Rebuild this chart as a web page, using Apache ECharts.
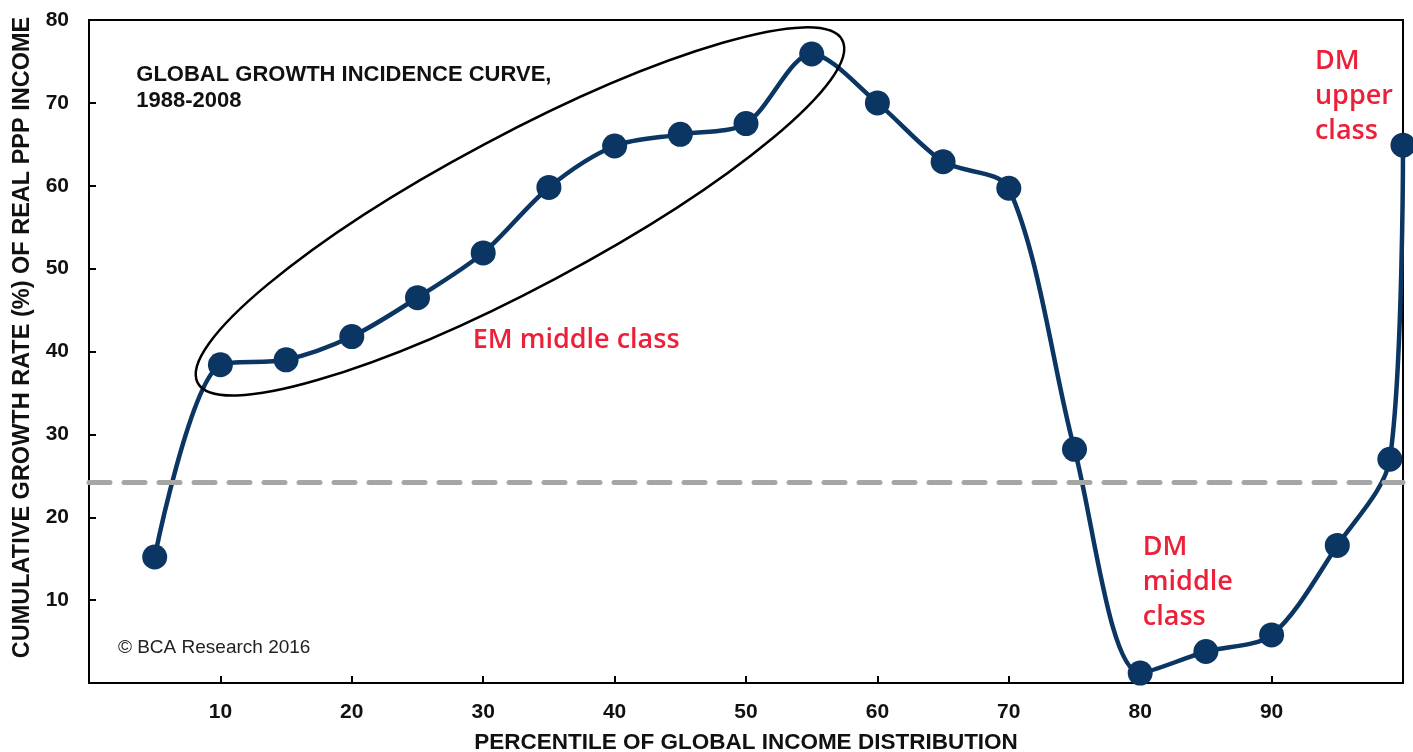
<!DOCTYPE html>
<html>
<head>
<meta charset="utf-8">
<title>Global growth incidence curve</title>
<script src="https://cdn.jsdelivr.net/npm/echarts@6/dist/echarts.min.js"></script>
<style>
  html, body { margin: 0; padding: 0; background: #fff; }
  #chart { width: 1413px; height: 752px; }
</style>
</head>
<body>
<div id="chart"></div>
<script>
// percentile of global income distribution
var percentiles = [5, 10, 15, 20, 25, 30, 35, 40, 45, 50, 55, 60, 65, 70, 75, 80, 85, 90, 95, 99, 100];
// cumulative growth rate (%) of real PPP income, 1988-2008
var growth = [15.2, 38.4, 39.0, 41.8, 46.5, 51.9, 59.8, 64.8, 66.2, 67.5, 75.9, 70.0, 62.9, 59.7, 28.2, 1.2, 3.8, 5.8, 16.6, 27.0, 64.9];
// global average (dashed line)
var globalAvg = 24.2;

var xTicks = [10, 20, 30, 40, 50, 60, 70, 80, 90];
var yTicks = [10, 20, 30, 40, 50, 60, 70, 80];

var navy = '#0b3562';
var red = '#ec2039';
var axisFont = '"Liberation Sans", Arial, sans-serif';

var chart = echarts.init(document.getElementById('chart'));

var points = percentiles.map(function (p, i) { return [p, growth[i]]; });

chart.setOption({
  animation: false,
  grid: {
    left: 89, right: 10, top: 20, bottom: 69,
    outerBoundsMode: 'none',
    show: true, borderColor: '#000', borderWidth: 2
  },
  xAxis: {
    type: 'value', min: 0, max: 100, interval: 10,
    name: 'PERCENTILE OF GLOBAL INCOME DISTRIBUTION',
    nameLocation: 'middle', nameGap: 48,
    nameTextStyle: { fontFamily: axisFont, fontWeight: 'bold', fontSize: 22.5, color: '#111' },
    axisLine: { lineStyle: { color: '#000', width: 2 } },
    axisTick: { inside: true, length: 7, lineStyle: { color: '#000', width: 2 } },
    axisLabel: {
      margin: 19, fontFamily: axisFont, fontWeight: 'bold', fontSize: 21, color: '#111',
      formatter: function (v) { return xTicks.indexOf(v) >= 0 ? v : ''; }
    },
    splitLine: { show: false }
  },
  yAxis: {
    type: 'value', min: 0, max: 80, interval: 10,
    name: 'CUMULATIVE GROWTH RATE (%) OF REAL PPP INCOME',
    nameLocation: 'middle', nameGap: 48, nameRotate: 90,
    nameTextStyle: {
      fontFamily: axisFont, fontWeight: 'bold', fontSize: 23.5, color: '#111',
      padding: [0, 0, 0, 28]
    },
    axisLine: { show: true, lineStyle: { color: '#000', width: 2 } },
    axisTick: { show: true, inside: true, length: 7, lineStyle: { color: '#000', width: 2 } },
    axisLabel: {
      margin: 20, fontFamily: axisFont, fontWeight: 'bold', fontSize: 21, color: '#111',
      formatter: function (v) { return yTicks.indexOf(v) >= 0 ? v : ''; }
    },
    splitLine: { show: false }
  },
  series: [{
    type: 'line',
    data: points,
    smooth: 0.3,
    symbol: 'circle',
    symbolSize: 25,
    lineStyle: { color: navy, width: 4.5 },
    itemStyle: { color: navy },
    z: 3,
    markLine: {
      silent: true,
      symbol: 'none',
      label: { show: false },
      lineStyle: { color: '#a6a6a6', width: 5, type: [21, 14], cap: 'round' },
      data: [{ yAxis: globalAvg }]
    }
  }]
});

// annotations anchored to data coordinates
function at(x, y) { return chart.convertToPixel({ gridIndex: 0 }, [x, y]); }

function placeNotes() {
  var title = at(3.6, 74.9);
  var em = at(29.2, 41.4);
  var dmMid = at(80.2, 18.5);
  var dmUp = at(93.3, 77.1);
  var copy = at(2.2, 4.3);
  var oval = at(32.8, 56.9);
  var redFont = '600 27px "Open Sans", sans-serif';
  chart.setOption({
    graphic: [
      {
        type: 'text', x: title[0], y: title[1], z: 20,
        style: {
          text: 'GLOBAL GROWTH INCIDENCE CURVE,\n1988-2008',
          font: 'bold 22px ' + axisFont, fill: '#111', lineHeight: 26,
          textAlign: 'left', textVerticalAlign: 'top'
        }
      },
      {
        type: 'text', x: em[0], y: em[1], z: 20,
        style: { text: 'EM middle class', font: redFont, fill: red, textAlign: 'left', textVerticalAlign: 'middle' }
      },
      {
        type: 'text', x: dmMid[0], y: dmMid[1], z: 20,
        style: { text: 'DM\nmiddle\nclass', font: redFont, fill: red, lineHeight: 35, textAlign: 'left', textVerticalAlign: 'top' }
      },
      {
        type: 'text', x: dmUp[0], y: dmUp[1], z: 20,
        style: { text: 'DM\nupper\nclass', font: redFont, fill: red, lineHeight: 35, textAlign: 'left', textVerticalAlign: 'top' }
      },
      {
        type: 'text', x: copy[0], y: copy[1], z: 20,
        style: { text: '\u00a9 BCA Research 2016', font: '19px ' + axisFont, fill: '#222', textAlign: 'left', textVerticalAlign: 'middle' }
      },
      {
        type: 'ellipse', x: oval[0], y: oval[1], z: 20,
        rotation: 28 * Math.PI / 180,
        shape: { cx: 0, cy: 0, rx: 365, ry: 76 },
        style: { fill: 'none', stroke: '#000', lineWidth: 2.5 }
      }
    ]
  });
}
placeNotes();
</script>
</body>
</html>
